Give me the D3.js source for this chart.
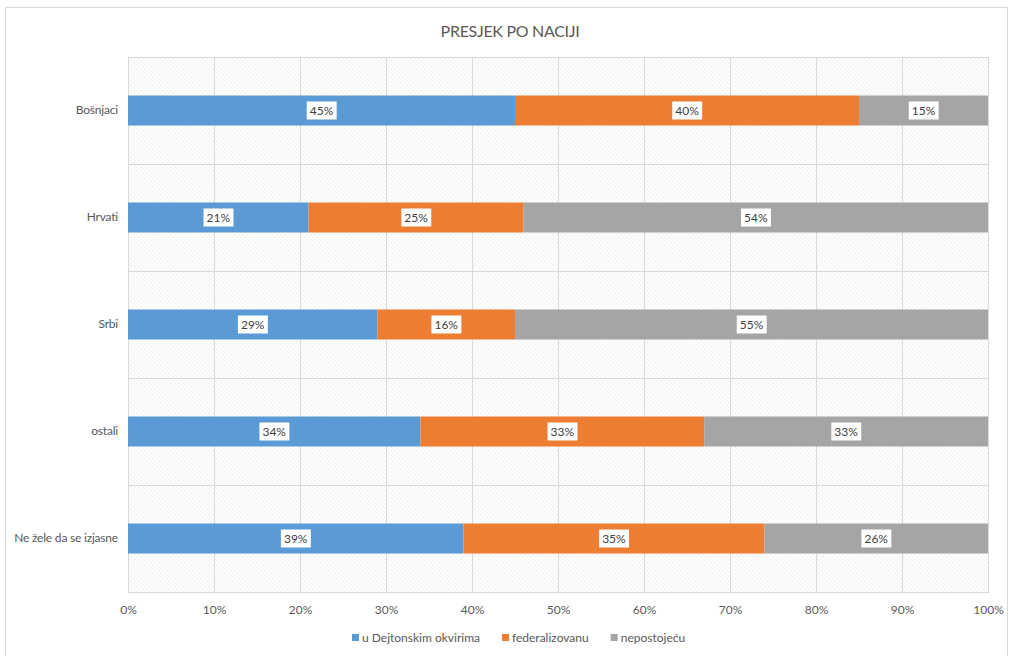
<!DOCTYPE html>
<html>
<head>
<meta charset="utf-8">
<script src="https://cdn.jsdelivr.net/npm/d3@7"></script>
<style>
  body { margin: 0; background: #fff; }
  text { font-family: Lato, "Open Sans", sans-serif; }
</style>
</head>
<body>
<div id="chart"></div>
<script>
// podaci
const categories = ['Bošnjaci', 'Hrvati', 'Srbi', 'ostali', 'Ne žele da se izjasne'];
const seriesNames = ['u Dejtonskim okvirima', 'federalizovanu', 'nepostojeću'];
const dejton = [45, 21, 29, 34, 39];
const federal = [40, 25, 16, 33, 35];
const nepostojecu = [15, 54, 55, 33, 26];
const ticks = [0, 10, 20, 30, 40, 50, 60, 70, 80, 90, 100];
const colors = ['#5B9BD5', '#ED7D31', '#A5A5A5'];

const width = 1011, height = 656;
const margin = { top: 57, right: 23, bottom: 64, left: 128 };
const innerW = width - margin.left - margin.right;
const innerH = height - margin.top - margin.bottom;
const fontFam = 'Lato, "Open Sans", sans-serif';

const svg = d3.select('#chart').append('svg')
  .attr('width', width)
  .attr('height', height);

// uzorak pozadine
const defs = svg.append('defs');
const pat = defs.append('pattern')
  .attr('id', 'hatch')
  .attr('patternUnits', 'userSpaceOnUse')
  .attr('width', 3).attr('height', 3)
  .attr('patternTransform', 'rotate(-45)');
pat.append('rect').attr('width', 3).attr('height', 3).attr('fill', '#fff');
pat.append('line').attr('x1', 0).attr('y1', 0).attr('x2', 0).attr('y2', 3)
  .attr('stroke', '#e6e6e6').attr('stroke-width', 1.2);

// okvir grafikona
svg.append('rect')
  .attr('x', 5.5).attr('y', 7.5)
  .attr('width', 1002).attr('height', 660)
  .attr('fill', 'none').attr('stroke', '#d9d9d9');

svg.append('text')
  .attr('x', 510).attr('y', 37)
  .attr('text-anchor', 'middle')
  .attr('fill', '#595959')
  .style('font-size', '16px')
  .style('letter-spacing', '-0.3px')
  .text('PRESJEK PO NACIJI');

const g = svg.append('g').attr('transform', `translate(${margin.left},${margin.top})`);

const x = d3.scaleLinear().domain([0, 100]).range([0, innerW]);
const y = d3.scaleBand().domain(categories).range([0, innerH]).paddingInner(0).paddingOuter(0);

g.append('rect')
  .attr('width', innerW).attr('height', innerH)
  .attr('fill', 'url(#hatch)');

// mreža
g.selectAll('.vgrid').data(ticks).join('line')
  .attr('class', 'vgrid')
  .attr('x1', d => Math.round(x(d)) + 0.5).attr('x2', d => Math.round(x(d)) + 0.5)
  .attr('y1', 0).attr('y2', innerH)
  .attr('stroke', '#d9d9d9');

g.selectAll('.hgrid').data(d3.range(categories.length + 1)).join('line')
  .attr('class', 'hgrid')
  .attr('x1', 0).attr('x2', innerW)
  .attr('y1', d => Math.round(d * y.step()) + 0.5)
  .attr('y2', d => Math.round(d * y.step()) + 0.5)
  .attr('stroke', '#d9d9d9');

g.append('rect')
  .attr('x', 0.5).attr('y', 0.5)
  .attr('width', innerW).attr('height', innerH)
  .attr('fill', 'none').attr('stroke', '#d9d9d9');

// slaganje
const rows = categories.map((c, i) => ({ cat: c, s0: dejton[i], s1: federal[i], s2: nepostojecu[i] }));
const stack = d3.stack().keys(['s0', 's1', 's2'])(rows);
const barH = 30;

const layer = g.selectAll('.layer').data(stack).join('g')
  .attr('class', 'layer')
  .attr('fill', (d, i) => colors[i]);

layer.selectAll('rect').data(d => d).join('rect')
  .attr('x', d => x(d[0]))
  .attr('width', d => x(d[1]) - x(d[0]))
  .attr('y', d => y(d.data.cat) + y.bandwidth() / 2 - barH / 2)
  .attr('height', barH);

// oznake
const labels = g.append('g');
stack.forEach(s => {
  s.forEach(d => {
    const cx = (x(d[0]) + x(d[1])) / 2;
    const cy = y(d.data.cat) + y.bandwidth() / 2;
    const txt = `${d[1] - d[0]}%`;
    const lg = labels.append('g').attr('transform', `translate(${cx},${cy})`);
    const t = lg.append('text')
      .attr('text-anchor', 'middle')
      .attr('dy', '0.35em')
      .attr('fill', '#404040')
      .style('font-size', '12px')
      .text(txt);
    const bb = t.node().getBBox();
    lg.insert('rect', 'text')
      .attr('x', bb.x - 3).attr('y', -9)
      .attr('width', bb.width + 6).attr('height', 18)
      .attr('fill', '#fff');
  });
});

// osi
const xAxis = g.append('g')
  .attr('transform', `translate(0,${innerH})`)
  .call(d3.axisBottom(x).tickValues(ticks).tickFormat(d => d + '%').tickSize(0).tickPadding(13));
xAxis.select('.domain').remove();
xAxis.selectAll('text').attr('fill', '#595959').style('font-size', '12px')
  .style('font-family', fontFam);

const yAxis = g.append('g')
  .call(d3.axisLeft(y).tickSize(0).tickPadding(10));
yAxis.select('.domain').remove();
yAxis.selectAll('text').attr('fill', '#595959').style('font-size', '12px')
  .style('letter-spacing', '-0.2px')
  .style('font-family', fontFam);

// legenda
const legend = svg.append('g').attr('transform', 'translate(0,638)');
let lx = 352;
seriesNames.forEach((n, i) => {
  legend.append('rect').attr('x', lx).attr('y', -4).attr('width', 7).attr('height', 7).attr('fill', colors[i]);
  const t = legend.append('text').attr('x', lx + 10).attr('y', 0).attr('dy', '0.35em')
    .attr('fill', '#595959').style('font-size', '12px').text(n);
  lx += 10 + t.node().getComputedTextLength() + 22;
});
</script>
</body>
</html>
